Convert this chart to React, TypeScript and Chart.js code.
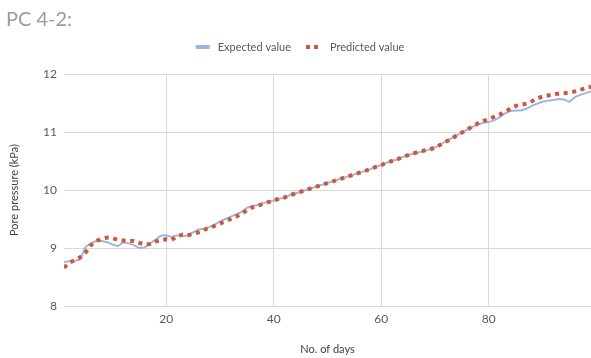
import React, { useEffect, useRef } from "react";
import { Chart, registerables } from "chart.js";

Chart.register(...registerables);

const titleText = "PC 4-2:";
const seriesNames = ["Expected value", "Predicted value"];
const xTitle = "No. of days";
const yTitle = "Pore pressure (kPa)";
const xTickValues = [20, 40, 60, 80];
const yTickValues = [8, 9, 10, 11, 12];

const days = [
  1, 2, 3, 4, 5, 6, 7, 8, 9, 10, 11, 12, 13, 14, 15, 16, 17, 18, 19, 20,
  21, 22, 23, 24, 25, 26, 27, 28, 29, 30, 31, 32, 33, 34, 35, 36, 37, 38, 39, 40,
  41, 42, 43, 44, 45, 46, 47, 48, 49, 50, 51, 52, 53, 54, 55, 56, 57, 58, 59, 60,
  61, 62, 63, 64, 65, 66, 67, 68, 69, 70, 71, 72, 73, 74, 75, 76, 77, 78, 79, 80,
  81, 82, 83, 84, 85, 86, 87, 88, 89, 90, 91, 92, 93, 94, 95, 96, 97, 98, 99,
];

const expected = [
  8.76, 8.77, 8.78, 8.8, 9.02, 9.08, 9.12, 9.12, 9.1, 9.06,
  9.03, 9.1, 9.08, 9.05, 9.0, 9.01, 9.08, 9.14, 9.21, 9.22,
  9.19, 9.22, 9.2, 9.22, 9.27, 9.32, 9.33, 9.36, 9.4, 9.46,
  9.5, 9.54, 9.58, 9.62, 9.69, 9.72, 9.74, 9.77, 9.8, 9.82,
  9.85, 9.87, 9.91, 9.94, 9.97, 10.0, 10.03, 10.06, 10.09, 10.12,
  10.15, 10.18, 10.21, 10.24, 10.27, 10.3, 10.33, 10.36, 10.4, 10.43,
  10.47, 10.5, 10.53, 10.57, 10.6, 10.63, 10.65, 10.67, 10.7, 10.73,
  10.78, 10.84, 10.89, 10.94, 10.99, 11.04, 11.09, 11.13, 11.16, 11.17,
  11.2, 11.25, 11.32, 11.36, 11.37, 11.37, 11.4, 11.45, 11.49, 11.52,
  11.54, 11.55, 11.57, 11.56, 11.52, 11.6, 11.64, 11.67, 11.7,
];

const predicted = [
  8.66, 8.75, 8.79, 8.84, 8.92, 9.05, 9.12, 9.16, 9.18, 9.17,
  9.14, 9.13, 9.12, 9.12, 9.09, 9.06, 9.07, 9.11, 9.14, 9.15,
  9.14, 9.2, 9.23, 9.22, 9.24, 9.27, 9.31, 9.35, 9.38, 9.42,
  9.46, 9.5, 9.54, 9.59, 9.65, 9.7, 9.73, 9.76, 9.79, 9.82,
  9.85, 9.87, 9.91, 9.94, 9.97, 10.0, 10.03, 10.06, 10.09, 10.12,
  10.15, 10.18, 10.21, 10.24, 10.27, 10.3, 10.33, 10.36, 10.4, 10.43,
  10.47, 10.5, 10.53, 10.57, 10.6, 10.63, 10.66, 10.68, 10.7, 10.73,
  10.78, 10.83, 10.88, 10.94, 10.99, 11.04, 11.1, 11.15, 11.19, 11.22,
  11.26, 11.3, 11.35, 11.4, 11.45, 11.47, 11.49, 11.53, 11.58, 11.61,
  11.63, 11.65, 11.66, 11.67, 11.68, 11.7, 11.73, 11.75, 11.78,
];

const FONT = "Lato, 'Open Sans', sans-serif";
const BLUE = "#9CB7E2";
const RED = "#D0583A";
const TEXT = "#595959";
const GRID = "#D9D9D9";

const legendPlugin = {
  id: "customLegend",
  afterDraw(chart: any) {
    const ctx = chart.ctx as CanvasRenderingContext2D;
    ctx.save();
    ctx.font = `11px ${FONT}`;
    ctx.textBaseline = "middle";
    const y = 47;
    const w0 = ctx.measureText(seriesNames[0]).width;
    const w1 = ctx.measureText(seriesNames[1]).width;
    const total = 14 + 8 + w0 + 15 + 12 + 12 + w1;
    let x = 300 - total / 2;
    ctx.fillStyle = BLUE;
    ctx.fillRect(x, y - 2, 14, 4);
    x += 14 + 8;
    ctx.fillStyle = TEXT;
    ctx.fillText(seriesNames[0], x, y);
    x += w0 + 15;
    ctx.fillStyle = RED;
    ctx.fillRect(x, y - 2, 4, 4);
    ctx.fillRect(x + 8, y - 2, 4, 4);
    x += 12 + 12;
    ctx.fillStyle = TEXT;
    ctx.fillText(seriesNames[1], x, y);
    ctx.restore();
  },
};

export default function App() {
  const canvasRef = useRef<HTMLCanvasElement | null>(null);

  useEffect(() => {
    document.body.style.margin = "0";
    const canvas = canvasRef.current;
    if (!canvas) return;
    const chart = new Chart(canvas, {
      type: "line",
      data: {
        datasets: [
          {
            label: seriesNames[0],
            data: days.map((d, i) => ({ x: d, y: expected[i] })),
            borderColor: BLUE,
            backgroundColor: BLUE,
            borderWidth: 2,
            pointRadius: 0,
            tension: 0,
            order: 2,
          },
          {
            label: seriesNames[1],
            data: days.map((d, i) => ({ x: d, y: predicted[i] })),
            borderColor: RED,
            backgroundColor: RED,
            borderWidth: 4,
            borderDash: [4, 4.6],
            borderCapStyle: "butt",
            pointRadius: 0,
            tension: 0,
            order: 1,
          },
        ],
      },
      plugins: [legendPlugin],
      options: {
        responsive: false,
        animation: false,
        layout: { padding: { top: 74, left: 0, right: 0, bottom: 0 } },
        plugins: {
          legend: { display: false },
          title: { display: false },
          tooltip: { enabled: false },
        },
        scales: {
          x: {
            type: "linear",
            min: 1,
            max: 99,
            afterBuildTicks: (scale: any) => {
              scale.ticks = xTickValues.map((v) => ({ value: v }));
            },
            afterFit: (scale: any) => {
              scale.height = 52;
            },
            grid: { color: GRID, lineWidth: 1, drawTicks: false },
            border: { display: false },
            ticks: {
              padding: 6,
              color: TEXT,
              font: { family: FONT, size: 12 },
              maxRotation: 0,
            },
            title: {
              display: true,
              text: xTitle,
              color: "#404040",
              font: { family: FONT, size: 11 },
              padding: { top: 0, bottom: 2 },
            },
          },
          y: {
            type: "linear",
            min: 8,
            max: 12,
            afterBuildTicks: (scale: any) => {
              scale.ticks = yTickValues.map((v) => ({ value: v }));
            },
            afterFit: (scale: any) => {
              scale.width = 64;
            },
            grid: { color: GRID, lineWidth: 1, drawTicks: false },
            border: { display: false },
            ticks: {
              padding: 7,
              color: TEXT,
              font: { family: FONT, size: 12 },
            },
            title: {
              display: true,
              text: yTitle,
              color: "#404040",
              font: { family: FONT, size: 11 },
              padding: { top: 8, bottom: 0 },
            },
          },
        },
      },
    } as any);
    return () => chart.destroy();
  }, []);

  return (
    <div style={{ position: "absolute", left: 0, top: 0, width: 591, height: 358, background: "#fff" }}>
      <div
        style={{
          position: "absolute",
          left: 6,
          top: 6,
          fontFamily: FONT,
          fontSize: 20,
          lineHeight: "24px",
          color: "#9B9B9B",
        }}
      >
        {titleText}
      </div>
      <canvas ref={canvasRef} width={591} height={358} style={{ display: "block", width: 591, height: 358 }} />
    </div>
  );
}
